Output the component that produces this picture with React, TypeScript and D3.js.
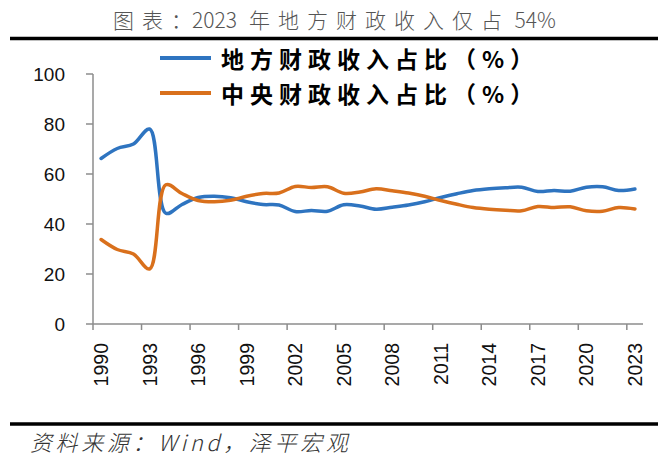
import * as d3 from "d3";

const years = d3.range(1990, 2024).map(String);
const localShare = [
  66.2, 70.2, 72.0, 78.0, 44.3, 47.8, 50.6, 51.1, 50.5, 48.9, 47.8, 47.6,
  45.0, 45.4, 45.1, 47.7, 47.2, 45.9, 46.7, 47.6, 48.9, 50.6, 52.1, 53.4,
  54.1, 54.5, 54.7, 53.0, 53.4, 53.1, 54.7, 54.9, 53.4, 54.0,
];
const centralShare = [
  33.8, 29.8, 28.0, 22.0, 55.7, 52.2, 49.4, 48.9, 49.5, 51.1, 52.2, 52.4,
  55.0, 54.6, 54.9, 52.3, 52.8, 54.1, 53.3, 52.4, 51.1, 49.4, 47.9, 46.6,
  45.9, 45.5, 45.3, 47.0, 46.6, 46.9, 45.3, 45.1, 46.6, 46.0,
];
const yTicks = [0, 20, 40, 60, 80, 100];
const tickYears = years.filter((_, i) => i % 3 === 0);

const seriesNames = ["地方财政收入占比（%）", "中央财政收入占比（%）"];
const colors = ["#2E74C0", "#D9701C"];

const W = 660;
const H = 460;
const left = 93;
const right = 643;
const top = 74;
const bottom = 324;

export default function App() {
  const x = d3.scaleBand().domain(years).range([left, right]).padding(0);
  const y = d3.scaleLinear().domain([0, 100]).range([bottom, top]);
  const cx = (yr: string) => (x(yr) as number) + x.bandwidth() / 2;

  const line = d3
    .line<number>()
    .x((_, i) => cx(years[i]))
    .y((d) => y(d))
    .curve(d3.curveCatmullRom.alpha(0.5));

  const series = [localShare, centralShare];
  const cjk = '"Noto Sans CJK SC", sans-serif';
  const num = '"Liberation Sans", Arial, sans-serif';

  return (
    <svg
      width={W}
      height={H}
      style={{ position: "absolute", left: 0, top: 0, background: "#fff" }}
    >
      {/* title */}
      <text
        x={113}
        y={28}
        fontFamily={cjk}
        fontWeight={300}
        fontSize={21}
        fill="#555"
      >
        <tspan letterSpacing={8}>图表</tspan>
        <tspan letterSpacing={0}>：2023</tspan>
        <tspan dx={12} letterSpacing={8}>年地方财政收入仅占</tspan>
        <tspan letterSpacing={0}> 54%</tspan>
      </text>
      <line x1={10} x2={658} y1={38.5} y2={38.5} stroke="#000" strokeWidth={3.5} />

      {/* y axis */}
      <line x1={left} x2={left} y1={top} y2={bottom} stroke="#8c8c8c" strokeWidth={1.5} />
      {yTicks.map((t) => (
        <g key={t}>
          <line x1={left - 7} x2={left} y1={y(t)} y2={y(t)} stroke="#8c8c8c" strokeWidth={1.5} />
          <text
            x={65}
            y={y(t)}
            textAnchor="end"
            dominantBaseline="central"
            fontFamily={num}
            fontSize={19}
            fill="#111"
          >
            {t}
          </text>
        </g>
      ))}

      {/* x axis */}
      <line x1={left} x2={right} y1={bottom} y2={bottom} stroke="#8c8c8c" strokeWidth={1.5} />
      {tickYears.map((yr) => (
        <line
          key={yr}
          x1={x(yr)}
          x2={x(yr)}
          y1={bottom}
          y2={bottom + 6}
          stroke="#8c8c8c"
          strokeWidth={1.5}
        />
      ))}
      {tickYears.map((yr) => (
        <text
          key={"l" + yr}
          transform={`translate(${cx(yr)},${bottom + 19}) rotate(-90)`}
          textAnchor="end"
          dominantBaseline="central"
          fontFamily={num}
          fontSize={19.5}
          fill="#111"
        >
          {yr}
        </text>
      ))}

      {/* lines */}
      {series.map((s, i) => (
        <path
          key={i}
          d={line(s) as string}
          fill="none"
          stroke={colors[i]}
          strokeWidth={3.5}
          strokeLinejoin="round"
          strokeLinecap="round"
        />
      ))}

      {/* legend */}
      {seriesNames.map((name, i) => (
        <g key={name} transform={`translate(0,${58 + i * 35})`}>
          <line x1={160} x2={211} y1={0} y2={0} stroke={colors[i]} strokeWidth={4} />
          <text
            x={221}
            y={0}
            dominantBaseline="central"
            fontFamily={cjk}
            fontWeight={700}
            fontSize={23}
            letterSpacing={6}
            fill="#000"
          >
            {name}
          </text>
        </g>
      ))}

      {/* source */}
      <line x1={10} x2={658} y1={424} y2={424} stroke="#000" strokeWidth={3.5} />
      <text
        x={30}
        y={451}
        fontFamily={cjk}
        fontWeight={300}
        fontStyle="italic"
        fontSize={22}
        letterSpacing={3.6}
        fill="#333"
      >
        资料来源：Wind，泽平宏观
      </text>
    </svg>
  );
}
